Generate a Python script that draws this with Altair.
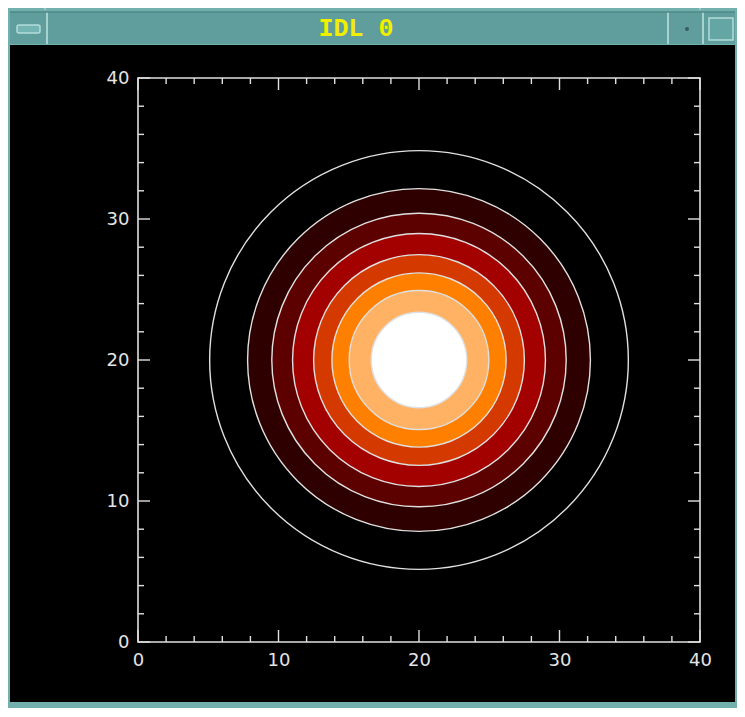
import altair as alt
import pandas as pd

# ---- data ----
contour_radius = [14.9, 12.2, 10.45, 9.0, 7.5, 6.2, 4.95, 3.4]          # contour circles, data units
fill_colors = ["#000000", "#2e0000", "#5c0000", "#a30000", "#d43a00",
               "#ff8000", "#ffb264", "#ffffff"]                            # fill inside each contour
center_x = [20]
center_y = [20]
major_ticks = [0, 10, 20, 30, 40]
minor_ticks = [2, 4, 6, 8, 12, 14, 16, 18, 22, 24, 26, 28, 32, 34, 36, 38]
title_text = ["IDL 0"]

# ---- layout ----
W, H = 562, 564
OX, OY = 138, 78          # page position of plot origin
TOTAL_W, TOTAL_H = 729, 700


def px(x):
    return x - OX


def py(y):
    return y - OY


ring_df = pd.DataFrame({
    "cx": center_x * len(contour_radius),
    "cy": center_y * len(contour_radius),
    "r_out": contour_radius,
    "r_in": contour_radius[1:] + [0],
    "color": fill_colors,
})
line_df = pd.DataFrame({
    "cx": center_x * len(contour_radius),
    "cy": center_y * len(contour_radius),
    "r": contour_radius,
})
dummy = pd.DataFrame({"a": [0]})

xs = alt.Scale(domain=[0, 40], nice=False, zero=False)
ys = alt.Scale(domain=[0, 40], nice=False, zero=False)
rs = alt.Scale(type="linear", domain=[0, 40], range=[0, W], zero=True)

label_style = dict(labelColor="#e4e4e4", labelFontSize=18, labelFont="DejaVu Sans",
                   labelFontWeight="normal", ticks=False, domain=False, grid=False,
                   labelFlush=False, labelOverlap=False,
                   title=None, zindex=1, values=major_ticks, format="d")


def prect(x1, x2, y1, y2, color, **kw):
    return alt.Chart(dummy).mark_rect(color=color, **kw).encode(
        x=alt.value(px(x1)), x2=alt.value(px(x2)),
        y=alt.value(py(y1)), y2=alt.value(py(y2)))


def prule(x1, x2, y1, y2, color, w=1.0):
    return alt.Chart(dummy).mark_rule(color=color, strokeWidth=w).encode(
        x=alt.value(px(x1)), x2=alt.value(px(x2)),
        y=alt.value(py(y1)), y2=alt.value(py(y2)))


# window decorations
deco = [
    prect(10, 735, 12, 44, "#5f9e9c"),
    prule(47, 47, 12, 44, "#a6d2d0", 2),
    prule(668, 668, 12, 44, "#a6d2d0", 2),
    prule(703, 703, 12, 44, "#a6d2d0", 2),
    prule(10, 735, 12, 12, "#4e8886", 1.5),
    prule(45, 45, 0, 10, "#a6d2d0", 1.5),
    prule(700, 700, 0, 10, "#a6d2d0", 1.5),
    prect(17, 40, 25, 33, "#74b4b2", stroke="#b4dcda", strokeWidth=1.5, cornerRadius=2),
    prect(709, 733, 18, 40, "#64a6a4", stroke="#b4dcda", strokeWidth=1.5),
    prect(685, 689, 27, 31, "#3a5e5e", cornerRadius=2),
    prect(10, 735, 45, 702, "#000000"),
]

title = alt.Chart(pd.DataFrame({"t": title_text})).mark_text(
    font="Liberation Mono", fontWeight="bold", fontSize=25, color="#f2ee00",
    align="center", baseline="middle").encode(
    text="t:N", x=alt.value(px(356)), y=alt.value(py(28)))

rings = alt.Chart(ring_df).mark_arc().encode(
    x=alt.X("cx:Q", scale=xs, axis=alt.Axis(orient="bottom", labelPadding=9, **label_style)),
    y=alt.Y("cy:Q", scale=ys, axis=alt.Axis(orient="left", labelPadding=9, **label_style)),
    radius=alt.Radius("r_out:Q", scale=rs, stack=None),
    radius2=alt.Radius2("r_in:Q"),
    theta=alt.value(0),
    theta2=alt.value(6.2832),
    color=alt.Color("color:N", scale=None),
)

lines = alt.Chart(line_df).mark_arc(fillOpacity=0, stroke="#e0e0e0", strokeWidth=1.4).encode(
    x=alt.X("cx:Q", scale=xs),
    y=alt.Y("cy:Q", scale=ys),
    radius=alt.Radius("r:Q", scale=rs, stack=None),
    theta=alt.value(0),
    theta2=alt.value(6.2832),
)

frame = alt.Chart(dummy).mark_rect(fillOpacity=0, stroke="#e0e0e0", strokeWidth=1.6).encode(
    x=alt.value(0), x2=alt.value(W), y=alt.value(0), y2=alt.value(H))


def tick_layers(values, length):
    df = pd.DataFrame({"v": values})
    base = alt.Chart(df).mark_rule(color="#e0e0e0", strokeWidth=1.4)
    return [
        base.encode(x=alt.X("v:Q", scale=xs), y=alt.value(H), y2=alt.value(H - length)),
        base.encode(x=alt.X("v:Q", scale=xs), y=alt.value(0), y2=alt.value(length)),
        base.encode(y=alt.Y("v:Q", scale=ys), x=alt.value(0), x2=alt.value(length)),
        base.encode(y=alt.Y("v:Q", scale=ys), x=alt.value(W), x2=alt.value(W - length)),
    ]


ticks = tick_layers(major_ticks, 12) + tick_layers(minor_ticks, 6)

chart = alt.layer(*deco, title, rings, lines, frame, *ticks).properties(
    width=W, height=H,
    autosize=alt.AutoSizeParams(type="none"),
    padding={"left": OX - 8, "top": OY - 8,
             "right": TOTAL_W - (OX - 8) - W, "bottom": TOTAL_H - (OY - 8) - H},
).configure(background="#72b0ae").configure_view(strokeWidth=0)

chart.save("out.html", embed_options={"renderer": "svg", "actions": False})
